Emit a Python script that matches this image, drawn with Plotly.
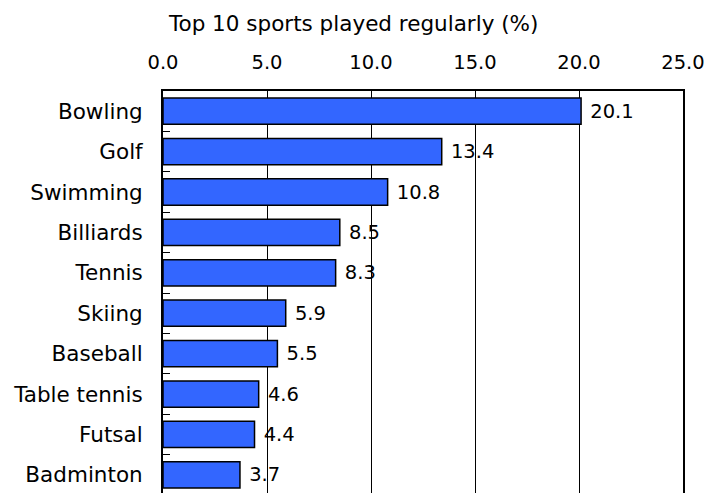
import plotly.graph_objects as go

sports = ["Bowling", "Golf", "Swimming", "Billiards", "Tennis",
          "Skiing", "Baseball", "Table tennis", "Futsal", "Badminton"]
share_pct = [20.1, 13.4, 10.8, 8.5, 8.3, 5.9, 5.5, 4.6, 4.4, 3.7]
x_ticks = [0, 5, 10, 15, 20, 25]
x_tick_text = ["0.0", "5.0", "10.0", "15.0", "20.0", "25.0"]

FONT = "DejaVu Sans, sans-serif"
FS_TEXT = 21.5   # category names and title
FS_NUM = 19.5    # numbers: axis ticks and bar values

fig = go.Figure(go.Bar(
    y=sports,
    x=share_pct,
    orientation="h",
    width=0.65,
    marker=dict(color="#3366FF", line=dict(color="black", width=1.5)),
    text=[f" {v:.1f}" for v in share_pct],
    textposition="outside",
    textfont=dict(family=FONT, size=FS_NUM, color="black"),
    cliponaxis=False,
))

fig.update_layout(
    width=708, height=493,
    margin=dict(l=163, r=25, t=91, b=0),
    paper_bgcolor="white", plot_bgcolor="white",
    showlegend=False,
    font=dict(family=FONT, size=FS_TEXT, color="black"),
    xaxis=dict(
        side="top", range=[0, 25],
        tickvals=x_ticks, ticktext=x_tick_text,
        tickfont=dict(family=FONT, size=FS_NUM, color="black"),
        showgrid=True, gridcolor="black", gridwidth=1,
        showline=True, linecolor="black", linewidth=2, mirror=False,
        ticks="", ticklabelstandoff=12, zeroline=False,
    ),
    yaxis=dict(
        categoryorder="array", categoryarray=sports,
        range=[9.45, -0.5],
        tickfont=dict(family=FONT, size=FS_TEXT, color="black"),
        showline=True, linecolor="black", linewidth=2, mirror=True,
        ticks="inside", tickson="boundaries", ticklen=7, tickcolor="black", tickwidth=1,
        ticklabelstandoff=14, showgrid=False,
    ),
    annotations=[dict(
        text="Top 10 sports played regularly (%)",
        xref="paper", yref="paper", x=(353 - 163) / 520, y=1 + (91 - 23) / 402,
        xanchor="center", yanchor="middle", showarrow=False,
        font=dict(family=FONT, size=FS_TEXT, color="black"),
    )],
)

fig.write_html("out.html")
